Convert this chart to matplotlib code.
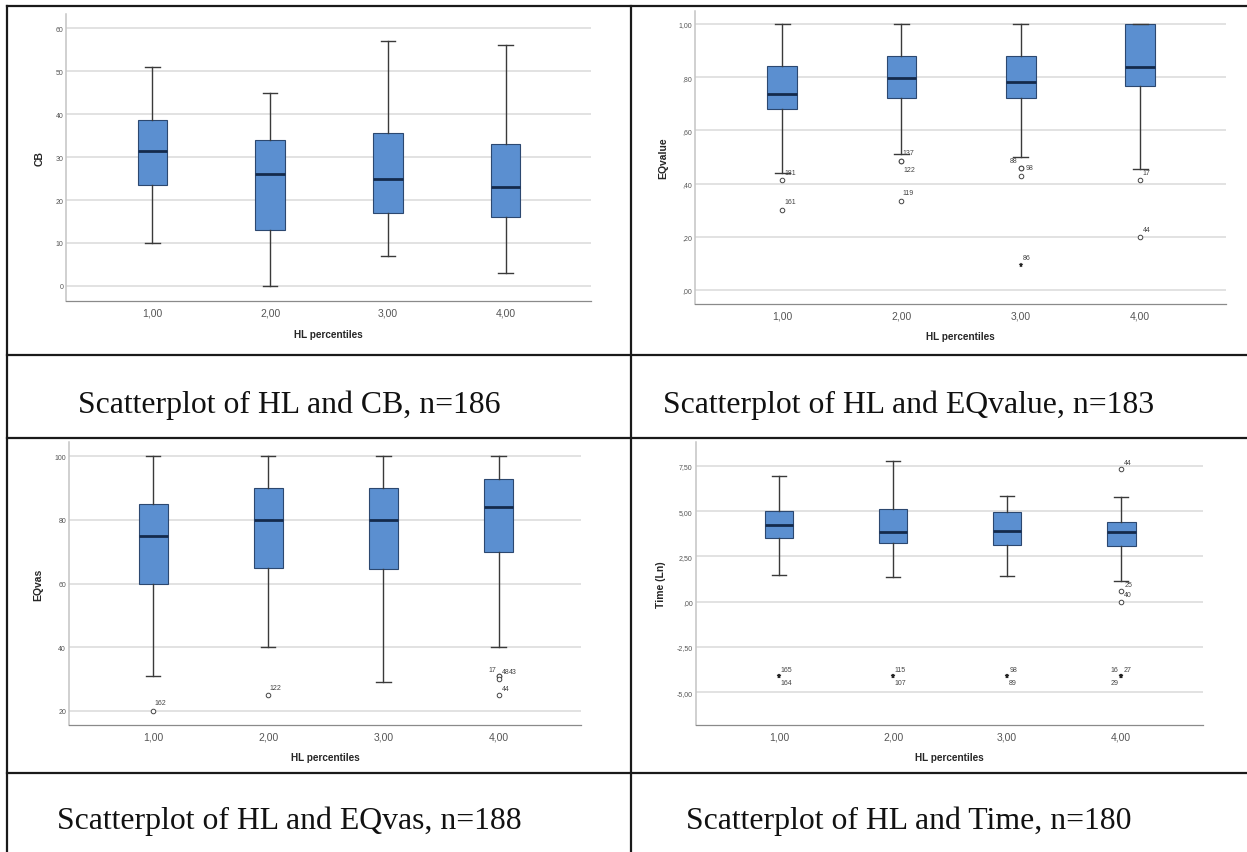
import matplotlib
matplotlib.use("Agg")
import matplotlib.pyplot as plt

W, H, DPI = 1247, 853, 100

# ---------------- data ----------------
categories = ["1,00", "2,00", "3,00", "4,00"]
x_title = "HL percentiles"

# CB
cb_whislo = [10, 0, 7, 3]
cb_q1 = [23.5, 13, 17, 16]
cb_med = [31.5, 26, 25, 23]
cb_q3 = [38.5, 34, 35.5, 33]
cb_whishi = [51, 45, 57, 56]
cb_ticks = [0, 10, 20, 30, 40, 50, 60]
cb_ticklabels = ["0", "10", "20", "30", "40", "50", "60"]

# EQvalue
eqv_whislo = [0.44, 0.51, 0.50, 0.455]
eqv_q1 = [0.68, 0.723, 0.72, 0.768]
eqv_med = [0.737, 0.796, 0.782, 0.837]
eqv_q3 = [0.842, 0.879, 0.879, 1.0]
eqv_whishi = [1.0, 1.0, 1.0, 1.0]
eqv_out_group = [1, 1, 2, 2, 2, 3, 3, 3, 3, 4, 4]
eqv_out_value = [0.413, 0.302, 0.484, 0.484, 0.335, 0.459, 0.459, 0.43, 0.095, 0.413, 0.199]
eqv_out_kind = ["o", "o", "o", "o", "o", "o", "o", "o", "*", "o", "o"]
eqv_out_label = ["181", "161", "137", "122", "119", "88", "98", "", "86", "17", "44"]
eqv_ticks = [0.0, 0.2, 0.4, 0.6, 0.8, 1.0]
eqv_ticklabels = [",00", ",20", ",40", ",60", ",80", "1,00"]

# EQvas
eqs_whislo = [31, 40, 29, 40]
eqs_q1 = [60, 65, 64.5, 70]
eqs_med = [75, 80, 80, 84]
eqs_q3 = [85, 90, 90, 93]
eqs_whishi = [100, 100, 100, 100]
eqs_out_group = [1, 2, 4, 4, 4, 4]
eqs_out_value = [20, 25, 31, 31, 30, 25]
eqs_out_kind = ["o", "o", "o", "o", "o", "o"]
eqs_out_label = ["162", "122", "17", "48", "43", "44"]
eqs_ticks = [20, 40, 60, 80, 100]
eqs_ticklabels = ["20", "40", "60", "80", "100"]

# Time (Ln)
tm_whislo = [1.45, 1.35, 1.43, 1.12]
tm_q1 = [3.50, 3.22, 3.13, 3.07]
tm_med = [4.25, 3.83, 3.90, 3.84]
tm_q3 = [5.02, 5.13, 4.95, 4.41]
tm_whishi = [6.95, 7.74, 5.83, 5.77]
tm_out_group = [4, 4, 4, 1, 1, 2, 2, 3, 3, 4, 4, 4]
tm_out_value = [7.32, 0.61, 0.0, -4.08, -4.08, -4.08, -4.08, -4.08, -4.08, -4.08, -4.08, -4.08]
tm_out_kind = ["o", "o", "o", "*", "*", "*", "*", "*", "*", "*", "*", "*"]
tm_out_label = ["44", "25", "40", "165", "164", "115", "107", "98", "89", "16", "27", "29"]
tm_ticks = [-5.0, -2.5, 0.0, 2.5, 5.0, 7.5]
tm_ticklabels = ["-5,00", "-2,50", ",00", "2,50", "5,00", "7,50"]

captions = ["Scatterplot of HL and CB, n=186",
            "Scatterplot of HL and EQvalue, n=183",
            "Scatterplot of HL and EQvas, n=188",
            "Scatterplot of HL and Time, n=180"]

# ---------------- styling / layout ----------------
BOX_FACE = "#5b8fd0"
BOX_EDGE = "#2c4870"
MED_COL = "#142a4c"
WHISK_COL = "#3a3a3a"
GRID_COL = "#dadada"
TICK_COL = "#555555"
LABEL_COL = "#262626"
SANS = ["Liberation Sans", "DejaVu Sans"]
SERIF = ["Liberation Serif", "DejaVu Serif"]

# label offsets in pixels (dx, dy); dx<0 -> right aligned
eqv_offsets = [(2, 8), (2, 8), (1, 8.5), (2, -8.5), (1, 8), (-3, 7), (5, 0), (0, 0), (2, 7), (2.5, 7.5), (2.5, 7.5)]
eqs_offsets = [(1.5, 8), (1.5, 7.5), (-2, 6), (3, 4), (10.5, 7), (3, 6.5)]
tm_offsets = [(2.5, 6.5), (3, 6.5), (3, 7), (1, 6.5), (1, -6.5), (1, 6.5), (1, -6.5),
              (2, 6), (2, -6.5), (-3, 6.5), (2.5, 6.5), (-3, -6.5)]

fig = plt.figure(figsize=(W / DPI, H / DPI), dpi=DPI)
fig.patch.set_facecolor("white")


def px_axes(x0, y0, x1, y1):
    return fig.add_axes([x0 / W, 1 - y1 / H, (x1 - x0) / W, (y1 - y0) / H])


def panel(rect, ylim, whislo, q1, med, q3, whishi, ticks, ticklabels, ylabel,
          ylab_off, out_group=None, out_value=None, out_kind=None, out_label=None,
          offsets=None):
    ax = px_axes(*rect)
    wpx = rect[2] - rect[0]
    hpx = rect[3] - rect[1]
    stats = []
    for i in range(len(categories)):
        stats.append(dict(med=med[i], q1=q1[i], q3=q3[i], whislo=whislo[i],
                          whishi=whishi[i], fliers=[]))
    ax.bxp(stats, positions=range(1, len(categories) + 1), widths=0.25,
           patch_artist=True, showfliers=False, manage_ticks=False,
           boxprops=dict(facecolor=BOX_FACE, edgecolor=BOX_EDGE, linewidth=0.8),
           medianprops=dict(color=MED_COL, linewidth=2.0, solid_capstyle="butt"),
           whiskerprops=dict(color=WHISK_COL, linewidth=1.0),
           capprops=dict(color=WHISK_COL, linewidth=1.0))
    if out_group is not None:
        for g, v, k, lab, (dx, dy) in zip(out_group, out_value, out_kind, out_label, offsets):
            if k == "o":
                ax.plot([g], [v], ls="none", marker="o", mfc="white", mec="#444444",
                        ms=3.3, mew=0.7, zorder=5)
            else:
                ax.plot([g], [v], ls="none", marker="*", mfc="#222222", mec="#222222",
                        ms=3.6, mew=0.3, zorder=5)
            if lab:
                ax.annotate(lab, (g, v), xytext=(dx, dy), textcoords="offset pixels",
                            ha="left" if dx >= 0 else "right", va="center",
                            fontsize=5.0, color="#444444", family=SANS, zorder=6)
    ax.set_xlim(0.27, 4.72)
    ax.set_ylim(*ylim)
    ax.set_xticks(range(1, len(categories) + 1))
    ax.set_xticklabels(categories, family=SANS, fontsize=7.5, color=TICK_COL)
    ax.set_yticks(ticks)
    ax.set_yticklabels(ticklabels, family=SANS, fontsize=5, color=TICK_COL)
    ax.tick_params(axis="x", length=0, pad=4.5)
    ax.tick_params(axis="y", length=0, pad=2.2)
    ax.yaxis.grid(True, color=GRID_COL, linewidth=1.1, zorder=0)
    ax.set_axisbelow(True)
    for s in ("top", "right"):
        ax.spines[s].set_visible(False)
    ax.spines["left"].set_color("#c4c4c4")
    ax.spines["left"].set_linewidth(1.1)
    ax.spines["bottom"].set_color("#8a8a8a")
    ax.spines["bottom"].set_linewidth(0.9)
    ax.set_xlabel(x_title, family=SANS, fontsize=7.2, fontweight="bold",
                  color=LABEL_COL, va="center")
    ax.xaxis.set_label_coords(0.5, -32.5 / hpx)
    ax.set_ylabel(ylabel, family=SANS, fontsize=7.5, fontweight="bold",
                  color=LABEL_COL, va="center")
    ax.yaxis.set_label_coords(-ylab_off / wpx, 0.5)
    return ax


panel((66.3, 15, 590.6, 302), (-3.49, 63.26), cb_whislo, cb_q1, cb_med, cb_q3, cb_whishi,
      cb_ticks, cb_ticklabels, "CB", 27)
panel((695, 11.7, 1226, 305), (-0.0526, 1.05), eqv_whislo, eqv_q1, eqv_med, eqv_q3, eqv_whishi,
      eqv_ticks, eqv_ticklabels, "EQvalue", 32,
      eqv_out_group, eqv_out_value, eqv_out_kind, eqv_out_label, eqv_offsets)
panel((69.1, 443, 581.4, 726), (15.5, 104.5), eqs_whislo, eqs_q1, eqs_med, eqs_q3, eqs_whishi,
      eqs_ticks, eqs_ticklabels, "EQvas", 31,
      eqs_out_group, eqs_out_value, eqs_out_kind, eqs_out_label, eqs_offsets)
panel((695.7, 443, 1203.4, 726), (-6.80, 8.81), tm_whislo, tm_q1, tm_med, tm_q3, tm_whishi,
      tm_ticks, tm_ticklabels, "Time (Ln)", 35,
      tm_out_group, tm_out_value, tm_out_kind, tm_out_label, tm_offsets)

# ---------------- table frame & captions ----------------
ov = fig.add_axes([0, 0, 1, 1], zorder=10)
ov.set_xlim(0, W)
ov.set_ylim(H, 0)
ov.axis("off")
ov.patch.set_alpha(0)
LW = 1.6
LC = "#1a1a1a"
for (xa, ya, xb, yb) in [(7, 7, W, 7), (7, 355.5, W, 355.5), (7, 439, W, 439), (7, 774, W, 774),
                         (7, 7, 7, H), (631, 7, 631, H)]:
    ov.plot([xa, xb], [ya, yb], color=LC, lw=LW, solid_capstyle="projecting", clip_on=False)

cap_pos = [(78, 413.5), (663, 413.5), (57, 829.5), (686, 829.5)]
for (cx, cy), txt in zip(cap_pos, captions):
    ov.text(cx, cy, txt, family=SERIF, fontsize=22.9, color="#111111",
            ha="left", va="baseline")

fig.savefig("out.png", dpi=DPI, facecolor="white")
